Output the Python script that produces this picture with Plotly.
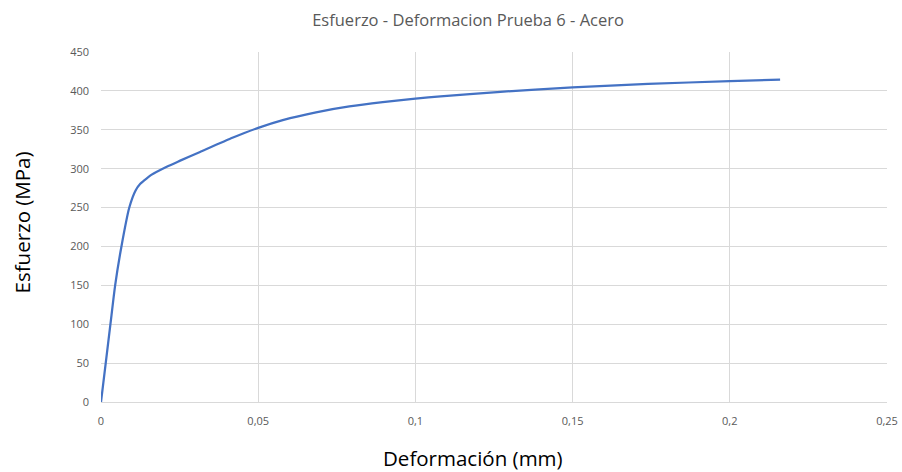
import plotly.graph_objects as go

strain = [0, 0.0015, 0.003, 0.0045, 0.0065, 0.009, 0.011, 0.0125, 0.0135, 0.016,
          0.0209, 0.025, 0.0315, 0.042, 0.05, 0.0578, 0.0684, 0.079, 0.0896, 0.1,
          0.108, 0.126, 0.15, 0.174, 0.2, 0.216]
stress = [0, 50, 100, 150, 200, 250, 272, 280.5, 284, 292,
          302.5, 310, 321.5, 340, 352.5, 362.5, 372.5, 380, 385.5, 390,
          393, 398.5, 404.5, 409, 412.5, 414.5]

x_ticks = [0, 0.05, 0.1, 0.15, 0.2, 0.25]
y_ticks = [0, 50, 100, 150, 200, 250, 300, 350, 400, 450]

fig = go.Figure()
fig.add_trace(go.Scatter(
    x=strain, y=stress, mode="lines",
    line=dict(color="#4472C4", width=2.25, shape="spline", smoothing=0.6),
    showlegend=False, hoverinfo="x+y",
))

font_family = "Open Sans, Liberation Sans, sans-serif"
fig.update_layout(
    width=902, height=472,
    margin=dict(l=101, r=15, t=52, b=70),
    paper_bgcolor="white", plot_bgcolor="white",
    separators=",.",
    title=dict(text="Esfuerzo - Deformacion Prueba 6 - Acero",
               xref="paper", x=0.467, xanchor="center", y=0.958, yanchor="middle",
               font=dict(family=font_family, size=16.5, color="#595959")),
    xaxis=dict(range=[0, 0.25], tickvals=x_ticks,
               ticktext=[str(v).replace(".", ",") for v in x_ticks],
               showgrid=True, gridcolor="#d9d9d9", gridwidth=1,
               zeroline=False, showline=True, linecolor="#d9d9d9", linewidth=1,
               ticks="", ticklabelstandoff=9, automargin=False,
               tickfont=dict(family=font_family, size=11, color="#595959")),
    yaxis=dict(range=[0, 450], tickvals=y_ticks,
               showgrid=True, gridcolor="#d9d9d9", gridwidth=1,
               zeroline=False, showline=False,
               ticks="", ticklabelstandoff=11, automargin=False,
               tickfont=dict(family=font_family, size=11, color="#595959")),
    annotations=[
        dict(text="Deformación (mm)", xref="paper", yref="paper",
             x=0.473, y=-0.16, xanchor="center", yanchor="middle", showarrow=False,
             font=dict(family=font_family, size=20.5, color="#000000")),
        dict(text="Esfuerzo (MPa)", xref="paper", yref="paper",
             x=-0.1, y=0.514, xanchor="center", yanchor="middle", showarrow=False,
             textangle=-90,
             font=dict(family=font_family, size=20.5, color="#000000")),
    ],
)

fig.write_html(
    "out.html",
    config={"displayModeBar": False},
    post_script="document.body.style.margin='0px';document.body.style.overflow='hidden';",
)
